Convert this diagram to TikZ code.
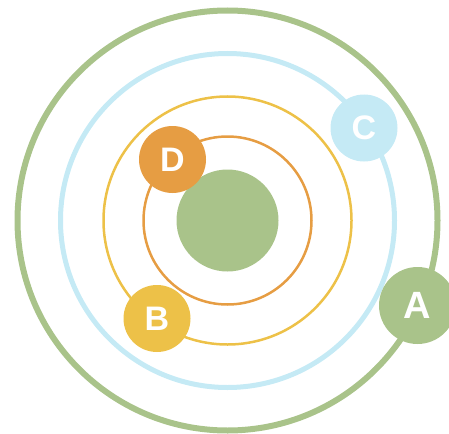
\documentclass[tikz,border=0pt]{standalone}
\usepackage{fontspec}
\setmainfont{Liberation Sans}
\usepackage{xcolor}
\usepackage{tikz}
\definecolor{ringgreen}{RGB}{169,195,138}
\definecolor{ringblue}{RGB}{197,234,245}
\definecolor{ringyellow}{RGB}{237,193,72}
\definecolor{ringorange}{RGB}{230,157,67}

\begin{document}
\begin{tikzpicture}[
    x=1pt, y=-1pt,
    orbit/.style={draw=#1},
    core/.style={circle, fill=ringgreen, minimum size=102pt, inner sep=0pt},
    planet/.style={circle, fill=#1, minimum size=67pt, inner sep=0pt, text=white, font=\fontsize{34}{34}\selectfont\bfseries}
]
\useasboundingbox (0,0) rectangle (449,433);

\node[core] (sun) at (227.5,220.5) {};

\draw[orbit=ringgreen, line width=6pt] (sun.center) circle[radius=210pt];
\draw[orbit=ringblue, line width=5pt] (sun.center) circle[radius=167pt];
\draw[orbit=ringyellow, line width=2.5pt] (sun.center) circle[radius=124pt];
\draw[orbit=ringorange, line width=2.5pt] (sun.center) circle[radius=84pt];

\node[planet=ringgreen, minimum size=77pt, font=\fontsize{38}{38}\selectfont\bfseries] (a) at (417.5,305.5) {A};
\node[planet=ringyellow] (b) at (157,318.5) {B};
\node[planet=ringblue] (c) at (364,128) {C};
\node[planet=ringorange] (d) at (172.5,159.5) {D};
\end{tikzpicture}
\end{document}
